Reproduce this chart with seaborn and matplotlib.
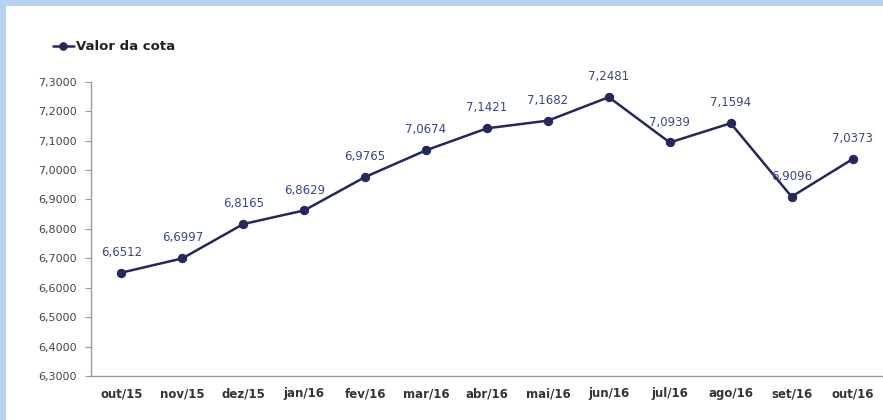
import pandas as pd
import seaborn as sns
import matplotlib.pyplot as plt
from matplotlib.patches import Rectangle

# dados
meses = ['out/15', 'nov/15', 'dez/15', 'jan/16', 'fev/16', 'mar/16', 'abr/16',
         'mai/16', 'jun/16', 'jul/16', 'ago/16', 'set/16', 'out/16']
valor_cota = [6.6512, 6.6997, 6.8165, 6.8629, 6.9765, 7.0674, 7.1421,
              7.1682, 7.2481, 7.0939, 7.1594, 6.9096, 7.0373]

df = pd.DataFrame({'mes': meses, 'valor': valor_cota})
df['pos'] = range(len(df))

sns.set_style('white')
plt.rcParams['font.family'] = ['DejaVu Sans']

navy = '#25295a'
fig = plt.figure(figsize=(8.83, 4.2), dpi=100)
fig.patch.set_facecolor('#b9d3ee')
fig.patches.append(Rectangle((6 / 883, 0), 1, 1 - 6 / 420, transform=fig.transFigure,
                             facecolor='white', edgecolor='none', zorder=-10))

ax = fig.add_axes([0.103, 0.105, 0.897, 0.700])
ax.set_facecolor('none')
sns.lineplot(data=df, x='pos', y='valor', ax=ax, color=navy, linewidth=1.8,
             marker='o', markersize=6, markeredgecolor=navy, label='Valor da cota')

for x, y in zip(df['pos'], df['valor']):
    ax.annotate(f'{y:.4f}'.replace('.', ','), (x, y), xytext=(0, 10),
                textcoords='offset points', ha='center', va='bottom',
                fontsize=8.5, color='#3a4785')

ax.set_xlim(-0.5, 12.5)
ax.set_ylim(6.3, 7.3)
ax.set_xticks(range(len(meses)))
ax.set_xticklabels(meses, fontsize=8.5, fontweight='bold', color='#333333')
ax.set_xticks([i + 0.5 for i in range(-1, 13)], minor=True)
ax.tick_params(axis='x', which='major', length=0, pad=8)
ax.tick_params(axis='x', which='minor', length=3, color='#999999', direction='in')
yt = [6.3 + i * 0.1 for i in range(11)]
ax.set_yticks(yt)
ax.set_yticklabels([f'{v:.4f}'.replace('.', ',') for v in yt], fontsize=8, color='#444444')
ax.tick_params(axis='y', length=4, color='#999999', left=True, pad=6)
ax.set_xlabel('')
ax.set_ylabel('')
for s in ['top', 'right']:
    ax.spines[s].set_visible(False)
for s in ['left', 'bottom']:
    ax.spines[s].set_color('#999999')
    ax.spines[s].set_linewidth(1)

ax.get_legend().remove()
h, l = ax.get_legend_handles_labels()
leg = fig.legend(h, l, loc='center left', bbox_to_anchor=(46 / 883, 1 - 47 / 420),
                 frameon=False, borderpad=0, handlelength=1.6, handletextpad=0.2,
                 markerscale=0.9, prop={'size': 9.5, 'weight': 'bold'})
for t in leg.get_texts():
    t.set_color('#222222')

fig.savefig('out.png', dpi=100)
